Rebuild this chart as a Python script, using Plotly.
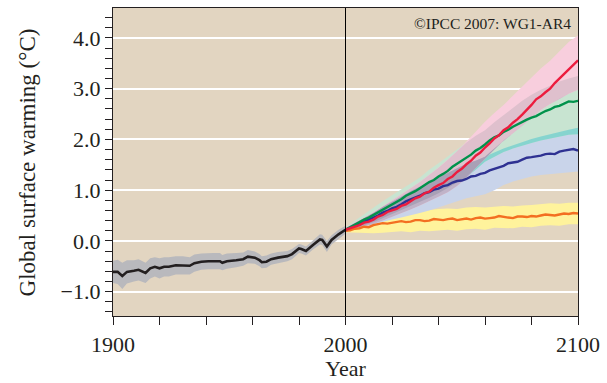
import plotly.graph_objects as go

# Observed global surface warming, 20th century (°C)
hist_years = [1900, 1902, 1904, 1906, 1909, 1911, 1914, 1916, 1918, 1920, 1922, 1924,
              1927, 1930, 1933, 1935, 1938, 1941, 1943, 1946, 1947, 1949, 1953, 1956,
              1958, 1961, 1963, 1964, 1966, 1968, 1971, 1975, 1977, 1980, 1981, 1983,
              1986, 1989, 1990, 1992, 1994, 1997, 2000]
hist_mean = [-0.61, -0.61, -0.69, -0.61, -0.59, -0.57, -0.63, -0.54, -0.51, -0.54, -0.51, -0.51,
             -0.48, -0.48, -0.49, -0.44, -0.41, -0.40, -0.40, -0.40, -0.43, -0.40, -0.38, -0.36,
             -0.31, -0.33, -0.38, -0.42, -0.41, -0.36, -0.33, -0.30, -0.26, -0.15, -0.16, -0.20,
             -0.08, 0.03, 0.02, -0.11, 0.02, 0.13, 0.22]
hist_spread = [0.22, 0.24, 0.26, 0.23, 0.21, 0.21, 0.20, 0.20, 0.19, 0.20, 0.19, 0.19,
               0.18, 0.18, 0.17, 0.17, 0.16, 0.16, 0.16, 0.16, 0.15, 0.15, 0.14, 0.13,
               0.13, 0.12, 0.12, 0.12, 0.12, 0.11, 0.11, 0.10, 0.10, 0.09, 0.09, 0.09,
               0.09, 0.10, 0.10, 0.11, 0.09, 0.09, 0.08]

# Scenario projections, 2000-2100: mean curves (2-yr steps)
line_years = list(range(2000, 2101, 2))
a2_mean = [0.22, 0.25, 0.29, 0.31, 0.36, 0.38, 0.42, 0.48, 0.51, 0.57, 0.60, 0.63, 0.69,
           0.72, 0.78, 0.84, 0.87, 0.94, 0.97, 1.05, 1.10, 1.14, 1.22, 1.27, 1.36, 1.42,
           1.51, 1.58, 1.68, 1.74, 1.84, 1.92, 2.02, 2.08, 2.18, 2.24, 2.33, 2.40, 2.49,
           2.58, 2.68, 2.79, 2.85, 2.93, 3.00, 3.11, 3.20, 3.28, 3.38, 3.46, 3.56]
a1b_mean = [0.22, 0.27, 0.32, 0.38, 0.42, 0.46, 0.51, 0.57, 0.61, 0.67, 0.72, 0.76, 0.82,
            0.89, 0.93, 0.98, 1.04, 1.10, 1.16, 1.20, 1.27, 1.32, 1.38, 1.46, 1.52, 1.58,
            1.65, 1.70, 1.78, 1.83, 1.90, 1.98, 2.04, 2.08, 2.15, 2.19, 2.25, 2.30, 2.35,
            2.39, 2.43, 2.46, 2.51, 2.56, 2.59, 2.64, 2.66, 2.70, 2.75, 2.74, 2.76]
b1_mean = [0.22, 0.26, 0.30, 0.34, 0.37, 0.42, 0.45, 0.50, 0.56, 0.59, 0.64, 0.67, 0.72,
           0.78, 0.82, 0.85, 0.89, 0.94, 0.96, 1.01, 1.03, 1.08, 1.10, 1.15, 1.18, 1.19,
           1.22, 1.27, 1.28, 1.32, 1.34, 1.39, 1.42, 1.44, 1.48, 1.53, 1.55, 1.56, 1.60,
           1.64, 1.65, 1.66, 1.68, 1.71, 1.72, 1.71, 1.76, 1.78, 1.80, 1.81, 1.78]
const_mean = [0.20, 0.21, 0.24, 0.25, 0.28, 0.27, 0.31, 0.33, 0.35, 0.34, 0.36, 0.38, 0.39,
              0.37, 0.38, 0.41, 0.41, 0.39, 0.40, 0.43, 0.42, 0.41, 0.43, 0.44, 0.41, 0.43,
              0.44, 0.42, 0.45, 0.46, 0.44, 0.45, 0.46, 0.49, 0.47, 0.46, 0.45, 0.48, 0.48,
              0.47, 0.49, 0.48, 0.50, 0.52, 0.51, 0.50, 0.52, 0.54, 0.53, 0.55, 0.54]

# Scenario spreads (±1 s.d., 4-yr steps)
years = [2000, 2004, 2008, 2012, 2016, 2020, 2024, 2028, 2032, 2036, 2040, 2044, 2048,
         2052, 2056, 2060, 2064, 2068, 2072, 2076, 2080, 2084, 2088, 2092, 2096, 2100]
a2_low = [0.18, 0.23, 0.28, 0.33, 0.40, 0.47, 0.54, 0.62, 0.70, 0.78, 0.87, 0.96, 1.08,
          1.24, 1.44, 1.64, 1.82, 1.98, 2.12, 2.27, 2.43, 2.58, 2.70, 2.80, 2.90, 2.98]
a2_high = [0.26, 0.36, 0.46, 0.56, 0.68, 0.80, 0.92, 1.04, 1.16, 1.30, 1.44, 1.60, 1.76,
           1.95, 2.15, 2.35, 2.52, 2.68, 2.84, 3.02, 3.22, 3.40, 3.55, 3.74, 3.92, 4.05]
a1b_low = [0.18, 0.25, 0.31, 0.37, 0.45, 0.52, 0.60, 0.68, 0.76, 0.85, 0.94, 1.04, 1.15,
           1.26, 1.40, 1.56, 1.66, 1.75, 1.82, 1.88, 1.93, 1.98, 2.02, 2.06, 2.09, 2.10]
a1b_high = [0.27, 0.40, 0.53, 0.65, 0.78, 0.90, 1.02, 1.13, 1.25, 1.40, 1.53, 1.66, 1.80,
            1.94, 2.07, 2.18, 2.34, 2.48, 2.62, 2.76, 2.88, 2.98, 3.06, 3.14, 3.20, 3.25]
b1_low = [0.18, 0.24, 0.29, 0.33, 0.38, 0.42, 0.46, 0.50, 0.55, 0.60, 0.66, 0.72, 0.78,
          0.84, 0.88, 0.92, 1.00, 1.10, 1.17, 1.22, 1.27, 1.30, 1.32, 1.34, 1.36, 1.37]
b1_high = [0.25, 0.36, 0.45, 0.55, 0.67, 0.77, 0.87, 0.98, 1.07, 1.16, 1.25, 1.34, 1.43,
           1.52, 1.58, 1.66, 1.74, 1.82, 1.89, 1.95, 2.01, 2.06, 2.10, 2.15, 2.19, 2.23]
const_low = [0.17, 0.16, 0.16, 0.15, 0.16, 0.17, 0.19, 0.17, 0.20, 0.19, 0.20, 0.22, 0.20,
             0.23, 0.24, 0.22, 0.26, 0.26, 0.25, 0.28, 0.27, 0.30, 0.31, 0.30, 0.33, 0.33]
const_high = [0.23, 0.32, 0.40, 0.46, 0.52, 0.56, 0.58, 0.59, 0.62, 0.61, 0.63, 0.64, 0.63,
              0.66, 0.67, 0.66, 0.68, 0.69, 0.68, 0.70, 0.71, 0.72, 0.74, 0.73, 0.75, 0.75]

BG = "#e2d5c1"
INK = "#231f20"
SERIF = "Liberation Serif, Times New Roman, serif"

fig = go.Figure()


def band(x, lo, hi, color):
    fig.add_trace(go.Scatter(x=list(x) + list(x)[::-1], y=list(lo) + list(hi)[::-1],
                             fill="toself", fillcolor=color, mode="lines",
                             line=dict(width=0), hoverinfo="skip", showlegend=False))


def overlap(*pairs):
    lo = [max(v) for v in zip(*[p[0] for p in pairs])]
    hi = [min(v) for v in zip(*[p[1] for p in pairs])]
    hi = [max(h, l) for l, h in zip(lo, hi)]
    return lo, hi


# historical uncertainty band
band(hist_years, [m - s for m, s in zip(hist_mean, hist_spread)],
     [m + s for m, s in zip(hist_mean, hist_spread)], "#b9b9bd")

# scenario spreads, overlaps shaded like stacked transparent inks
band(years, const_low, const_high, "#fff39c")
red = (a2_low, a2_high)
green = (a1b_low, a1b_high)
blue = (b1_low, b1_high)
band(years, *blue, "#c9d4ea")
band(years, *green, "#c8e4d1")
band(years, *red, "#f8cedd")
band(years, *overlap(green, blue), "#86d4cf")
band(years, *overlap(red, green), "#dfc0cd")
band(years, *overlap(red, blue), "#c0b3c8")
band(years, *overlap(red, green, blue), "#a9a0b6")

# mean curves
fig.add_trace(go.Scatter(x=hist_years, y=hist_mean, mode="lines",
                         line=dict(color=INK, width=2.6), showlegend=False))
for vals, col in [(const_mean, "#f36f21"), (b1_mean, "#2e3192"),
                  (a1b_mean, "#00924b"), (a2_mean, "#ec1c3e")]:
    fig.add_trace(go.Scatter(x=line_years, y=vals, mode="lines",
                             line=dict(color=col, width=2.4), showlegend=False))

fig.add_shape(type="line", xref="x", yref="paper", x0=2000, x1=2000, y0=0, y1=1,
              line=dict(color="black", width=1))

fig.add_annotation(xref="paper", yref="paper", x=0.99, y=0.985, xanchor="right",
                   yanchor="top", showarrow=False, text="©IPCC 2007: WG1-AR4",
                   font=dict(family=SERIF, size=15.5, color=INK))

# y-axis title, placed as a rotated annotation
fig.add_annotation(xref="paper", yref="paper", x=-0.184, y=0.50, xanchor="center",
                   yanchor="middle", textangle=-90, showarrow=False,
                   text="Global surface warming (°C)",
                   font=dict(family=SERIF, size=23, color=INK))

fig.update_layout(
    width=607, height=383,
    margin=dict(l=113, r=26, t=7, b=67),
    paper_bgcolor="white", plot_bgcolor=BG,
    font=dict(family=SERIF, size=22, color=INK),
)
fig.update_xaxes(
    range=[1900, 2100], tickvals=[1900, 2000, 2100], ticktext=["1900", "2000", "2100"],
    ticks="outside", ticklen=8, tickcolor=INK, tickwidth=1.2,
    minor=dict(tickvals=[1920, 1940, 1960, 1980, 2020, 2040, 2060, 2080],
               ticks="outside", ticklen=8, tickcolor=INK, tickwidth=1.2),
    showgrid=False, zeroline=False,
    showline=True, linecolor=INK, linewidth=1.2, mirror=True,
    title=dict(text="Year", font=dict(size=22), standoff=2),
    tickfont=dict(size=22),
)
fig.update_yaxes(
    range=[-1.48, 4.59], tick0=0, dtick=1, tickformat=".1f",
    ticks="outside", ticklen=7, tickcolor=INK, tickwidth=1.2,
    minor=dict(dtick=0.2, tick0=0, ticks="outside", ticklen=7,
               tickcolor=INK, tickwidth=1.2, showgrid=False),
    showgrid=True, gridcolor="white", gridwidth=1.5, zeroline=False,
    showline=True, linecolor=INK, linewidth=1.2, mirror=True,
    tickfont=dict(size=22),
)

fig.write_html("out.html")
